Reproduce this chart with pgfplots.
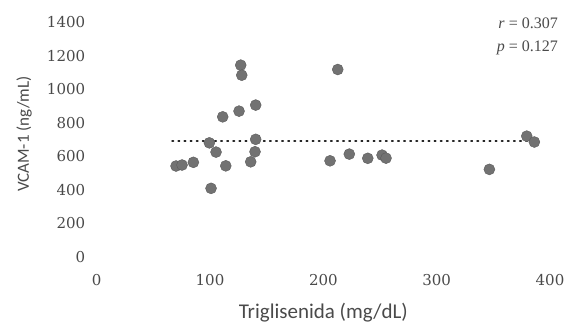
\documentclass[border=0pt]{standalone}
\usepackage{pgfplots}
\pgfplotsset{compat=1.18}
\usepackage{fontspec}
\setmainfont{Carlito}
\newfontfamily\tickfont{DejaVu Serif}
\newfontfamily\annfont{Liberation Serif}
\definecolor{txt}{HTML}{4A4A4A}
\definecolor{dot}{HTML}{727272}
\begin{document}
\begin{tikzpicture}[x=1pt,y=1pt]
\useasboundingbox (0,0) rectangle (576,324);
\begin{axis}[
  at={(96.7pt,67pt)}, anchor=south west,
  scale only axis, width=453.3pt, height=235pt,
  xmin=0, xmax=400, ymin=0, ymax=1400,
  xtick={0,100,...,400}, ytick={0,200,...,1400},
  axis line style={draw=none}, tick style={draw=none},
  /pgf/number format/assume math mode=true,
  /pgf/number format/set thousands separator={},
  ticklabel style={font=\tickfont\fontsize{15}{17}\selectfont, text=txt},
  yticklabel style={xshift=-8pt},
  xticklabel style={yshift=-14pt},
  xlabel={Triglisenida (mg/dL)},
  ylabel={VCAM-1 (ng/mL)},
  xlabel style={at={(rel axis cs:0.5,-0.238)}, anchor=center, font=\fontsize{21}{24}\selectfont, text=txt},
  ylabel style={at={(rel axis cs:-0.160,0.523)}, anchor=center, font=\fontsize{17}{20}\selectfont, text=txt},
  clip=false,
]
\addplot[black!85, line width=1.6pt, dash pattern=on 1.4pt off 4.7pt, line cap=round]
  coordinates {(66.5,690) (382,690)};
\addplot[only marks, mark=*, mark size=5.5pt, mark options={fill=dot, draw=dot!80!black, line width=0.4pt}]
  coordinates {
(127.1,1143) (128.0,1083) (111.2,835) (125.6,869) (140.3,905)
(99.4,680) (105.3,625) (140.3,701) (139.7,627) (135.9,567)
(113.9,543) (85.3,564) (70.0,542) (75.3,548) (100.9,409)
(212.7,1117) (205.9,573) (222.9,613) (239.2,588) (251.8,607)
(255.3,589) (379.5,720) (386.2,685) (346.5,522)
  };
\node[text=txt, font=\annfont\fontsize{16}{18}\selectfont, anchor=east] at (rel axis cs:1.025,0.996) {\textit{r} = 0.307};
\node[text=txt, font=\annfont\fontsize{16}{18}\selectfont, anchor=east] at (rel axis cs:1.025,0.889) {\textit{p} = 0.127};
\end{axis}
\end{tikzpicture}
\end{document}
